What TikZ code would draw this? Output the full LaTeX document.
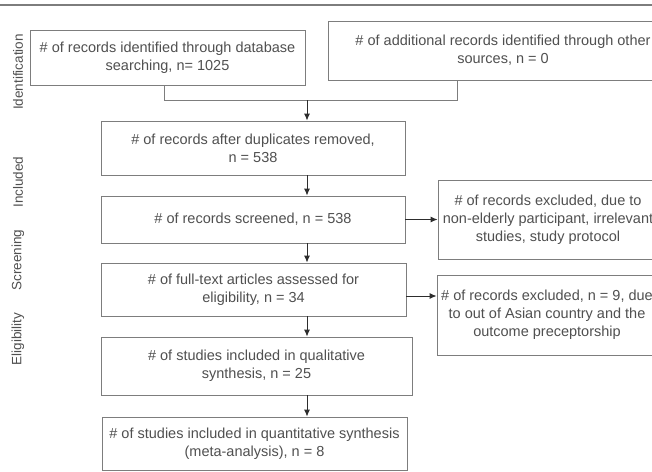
\documentclass[tikz,border=0pt]{standalone}
\usepackage{fontspec}
\setmainfont{Liberation Sans}
\usetikzlibrary{arrows.meta}
\definecolor{txt}{RGB}{80,80,80}
\definecolor{edge}{RGB}{125,125,125}
\definecolor{arr}{RGB}{45,45,45}
\tikzset{
  box/.style={draw=edge, line width=0.9pt, rectangle, inner sep=0pt, align=center,
    text=txt, font=\fontsize{14.5}{18}\selectfont},
  phase/.style={rotate=90, text=txt, font=\fontsize{13.5}{16}\selectfont, inner sep=0pt},
  conn/.style={draw=edge, line width=0.9pt},
  arrowline/.style={draw=arr, line width=0.9pt, -{Latex[length=7pt,width=6pt]}}
}
\begin{document}
\begin{tikzpicture}[x=1pt,y=-1pt]
\useasboundingbox (0,0) rectangle (652,471);
\clip (0,0) rectangle (652,471);
\fill[white] (0,0) rectangle (652,471);
\draw[edge, line width=2pt] (0,5) -- (652,5);

% phase labels
\node[phase] (pid) at (18,72) {Identification};
\node[phase] (pin) at (18,182) {Included};
\node[phase] (psc) at (18,260) {Screening};
\node[phase] (pel) at (18,339) {Eligibility};

% boxes
\node[box, minimum width=275pt, minimum height=55pt] (idA) at (167.5,57.5)
  {\# of records identified through database\\searching, n= 1025};
\node[box, minimum width=350pt, minimum height=59pt] (idB) at (503,50.5)
  {\# of additional records identified through other\\sources, n = 0};
\node[box, minimum width=304pt, minimum height=54pt] (dup) at (253,148)
  {\# of records after duplicates removed,\\n = 538};
\node[box, minimum width=304pt, minimum height=47pt] (scr) at (253,219.5)
  {\# of records screened, n = 538};
\node[box, minimum width=305pt, minimum height=53pt] (full) at (253.5,289.5)
  {\# of full-text articles assessed for\\eligibility, n = 34};
\node[box, minimum width=311pt, minimum height=58pt] (qual) at (256.5,366)
  {\# of studies included in qualitative\\synthesis, n = 25};
\node[box, minimum width=305pt, minimum height=53pt] (quant) at (254.5,443.5)
  {\# of studies included in quantitative synthesis\\(meta-analysis), n = 8};
\node[box, minimum width=220pt, minimum height=79pt] (exA) at (548,219.5)
  {\# of records excluded, due to\\non-elderly participant, irrelevant\\studies, study protocol};
\node[box, minimum width=220pt, minimum height=80pt] (exB) at (547,315)
  {\# of records excluded, n = 9, due\\to out of Asian country and the\\outcome preceptorship};

% connectors
\coordinate (j1) at (164,100);
\coordinate (j2) at (457,100);
\coordinate (jm) at (307,100);
\draw[conn] (idA.south -| j1) -- (j1) -- (j2) -- (idB.south -| j2);
\draw[arrowline] (jm) -- (dup.north -| jm);
\draw[arrowline] (dup.south -| jm) -- (scr.north -| jm);
\draw[arrowline] (scr.south -| jm) -- (full.north -| jm);
\draw[arrowline] (full.south -| jm) -- (qual.north -| jm);
\draw[arrowline] (qual.south -| jm) -- (quant.north -| jm);
\draw[arrowline] (scr.east) -- (scr.east -| exA.west);
\coordinate (jb) at (406,296);
\draw[arrowline] (full.east |- jb) -- (exB.west |- jb);
\end{tikzpicture}
\end{document}
